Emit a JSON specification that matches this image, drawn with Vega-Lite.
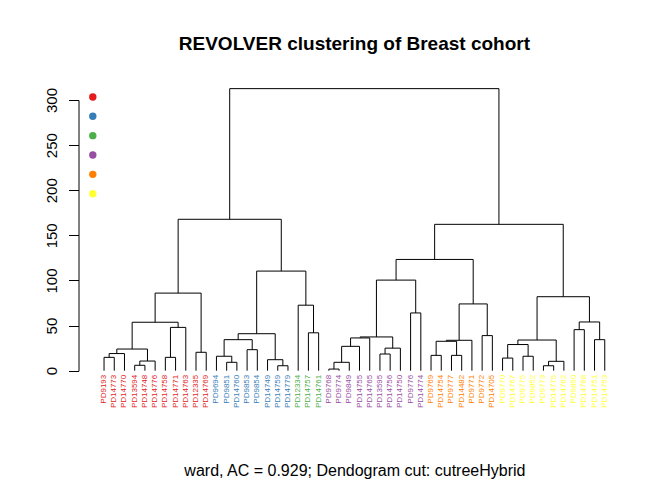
{
  "$schema": "https://vega.github.io/schema/vega-lite/v6.json",
  "width": 551.8,
  "height": 270.7,
  "autosize": {"type": "none"},
  "padding": {"left": 78.5, "top": 100, "right": 41.7, "bottom": 109.3},
  "background": "white",
  "title": {
    "text": "REVOLVER clustering of Breast cohort",
    "font": "Liberation Sans", "fontSize": 19, "fontWeight": "bold", "color": "#000",
    "anchor": "middle", "baseline": "alphabetic", "offset": 18
  },
  "config": {
    "view": {"stroke": null},
    "axisX": {"domain": false, "ticks": false, "labels": false, "grid": false,
      "titleFont": "Liberation Sans", "titleFontSize": 16, "titleFontWeight": "normal", "titleColor": "#000",
      "titleBaseline": "alphabetic", "titleY": 104.3},
    "axisY": {"values": [0, 50, 100, 150, 200, 250, 300], "grid": false,
      "domainColor": "#000", "tickColor": "#000", "tickSize": 10, "domainWidth": 1, "tickWidth": 1,
      "labelAngle": 270, "labelAlign": "center", "labelBaseline": "alphabetic", "labelPadding": 12,
      "labelFont": "Liberation Sans", "labelFontSize": 15, "labelColor": "#000",
      "labelFlush": false, "labelOverlap": false}
  },
  "datasets": {
    "merges": [
      {"node": "A", "xl": 1, "hl": 0, "xr": 2, "hr": 0, "h": 14.8},
      {"node": "B", "xl": 1.5, "hl": 14.8, "xr": 3, "hr": 0, "h": 19},
      {"node": "C", "xl": 4, "hl": 0, "xr": 5, "hr": 0, "h": 6},
      {"node": "D", "xl": 4.5, "hl": 6, "xr": 6, "hr": 0, "h": 10.7},
      {"node": "E", "xl": 2.25, "hl": 19, "xr": 5.25, "hr": 10.7, "h": 24},
      {"node": "F", "xl": 7, "hl": 0, "xr": 8, "hr": 0, "h": 14.8},
      {"node": "G", "xl": 7.5, "hl": 14.8, "xr": 9, "hr": 0, "h": 48},
      {"node": "H", "xl": 3.75, "hl": 24, "xr": 8.25, "hr": 48, "h": 53.7},
      {"node": "I", "xl": 10, "hl": 0, "xr": 11, "hr": 0, "h": 20.4},
      {"node": "J", "xl": 6, "hl": 53.7, "xr": 10.5, "hr": 20.4, "h": 86},
      {"node": "K", "xl": 13, "hl": 0, "xr": 14, "hr": 0, "h": 9.3},
      {"node": "L", "xl": 12, "hl": 0, "xr": 13.5, "hr": 9.3, "h": 16},
      {"node": "M", "xl": 15, "hl": 0, "xr": 16, "hr": 0, "h": 23.3},
      {"node": "N", "xl": 12.75, "hl": 16, "xr": 15.5, "hr": 23.3, "h": 34.4},
      {"node": "O", "xl": 18, "hl": 0, "xr": 19, "hr": 0, "h": 5.5},
      {"node": "P", "xl": 17, "hl": 0, "xr": 18.5, "hr": 5.5, "h": 12.2},
      {"node": "Q", "xl": 14.125, "hl": 34.4, "xr": 17.75, "hr": 12.2, "h": 41},
      {"node": "R", "xl": 21, "hl": 0, "xr": 22, "hr": 0, "h": 42},
      {"node": "S", "xl": 20, "hl": 0, "xr": 21.5, "hr": 42, "h": 72.6},
      {"node": "T", "xl": 15.9375, "hl": 41, "xr": 20.75, "hr": 72.6, "h": 110.4},
      {"node": "U", "xl": 8.25, "hl": 86, "xr": 18.34375, "hr": 110.4, "h": 167.8},
      {"node": "V", "xl": 23, "hl": 0, "xr": 24, "hr": 0, "h": 1.8},
      {"node": "W", "xl": 23.5, "hl": 1.8, "xr": 25, "hr": 0, "h": 9.3},
      {"node": "X", "xl": 24.25, "hl": 9.3, "xr": 26, "hr": 0, "h": 27},
      {"node": "Y", "xl": 25.125, "hl": 27, "xr": 27, "hr": 0, "h": 36.3},
      {"node": "Z", "xl": 28, "hl": 0, "xr": 29, "hr": 0, "h": 18.5},
      {"node": "AA", "xl": 28.5, "hl": 18.5, "xr": 30, "hr": 0, "h": 25},
      {"node": "AB", "xl": 26.0625, "hl": 36.3, "xr": 29.25, "hr": 25, "h": 37.4},
      {"node": "AC", "xl": 31, "hl": 0, "xr": 32, "hr": 0, "h": 64},
      {"node": "AD", "xl": 27.65625, "hl": 37.4, "xr": 31.5, "hr": 64, "h": 100.4},
      {"node": "AE", "xl": 33, "hl": 0, "xr": 34, "hr": 0, "h": 17},
      {"node": "AF", "xl": 35, "hl": 0, "xr": 36, "hr": 0, "h": 17},
      {"node": "AG", "xl": 33.5, "hl": 17, "xr": 35.5, "hr": 17, "h": 32.6},
      {"node": "AH", "xl": 34.5, "hl": 32.6, "xr": 37, "hr": 0, "h": 33.7},
      {"node": "AI", "xl": 38, "hl": 0, "xr": 39, "hr": 0, "h": 38.9},
      {"node": "AJ", "xl": 35.75, "hl": 33.7, "xr": 38.5, "hr": 38.9, "h": 74},
      {"node": "AK", "xl": 29.578125, "hl": 100.4, "xr": 37.125, "hr": 74, "h": 123.3},
      {"node": "AL", "xl": 40, "hl": 0, "xr": 41, "hr": 0, "h": 14},
      {"node": "AM", "xl": 42, "hl": 0, "xr": 43, "hr": 0, "h": 16},
      {"node": "AN", "xl": 40.5, "hl": 14, "xr": 42.5, "hr": 16, "h": 29},
      {"node": "AO", "xl": 44, "hl": 0, "xr": 45, "hr": 0, "h": 5.5},
      {"node": "AP", "xl": 44.5, "hl": 5.5, "xr": 46, "hr": 0, "h": 10.4},
      {"node": "AQ", "xl": 41.5, "hl": 29, "xr": 45.25, "hr": 10.4, "h": 34},
      {"node": "AR", "xl": 47, "hl": 0, "xr": 48, "hr": 0, "h": 45.5},
      {"node": "AS", "xl": 49, "hl": 0, "xr": 50, "hr": 0, "h": 34.4},
      {"node": "AT", "xl": 47.5, "hl": 45.5, "xr": 49.5, "hr": 34.4, "h": 54},
      {"node": "AU", "xl": 43.375, "hl": 34, "xr": 48.5, "hr": 54, "h": 82},
      {"node": "AV", "xl": 33.3515625, "hl": 123.3, "xr": 45.9375, "hr": 82, "h": 162.2},
      {"node": "root", "xl": 13.296875, "hl": 167.8, "xr": 39.64453125, "hr": 162.2, "h": 312.6}
    ],
    "leaves": [
      {"pos": 1, "sample": "PD9193", "cluster": "C1"},
      {"pos": 2, "sample": "PD14773", "cluster": "C1"},
      {"pos": 3, "sample": "PD14770", "cluster": "C1"},
      {"pos": 4, "sample": "PD13594", "cluster": "C1"},
      {"pos": 5, "sample": "PD14748", "cluster": "C1"},
      {"pos": 6, "sample": "PD14776", "cluster": "C1"},
      {"pos": 7, "sample": "PD14758", "cluster": "C1"},
      {"pos": 8, "sample": "PD14771", "cluster": "C1"},
      {"pos": 9, "sample": "PD14763", "cluster": "C1"},
      {"pos": 10, "sample": "PD12335", "cluster": "C1"},
      {"pos": 11, "sample": "PD14769", "cluster": "C1"},
      {"pos": 12, "sample": "PD9694", "cluster": "C2"},
      {"pos": 13, "sample": "PD9851", "cluster": "C2"},
      {"pos": 14, "sample": "PD14760", "cluster": "C2"},
      {"pos": 15, "sample": "PD9853", "cluster": "C2"},
      {"pos": 16, "sample": "PD9854", "cluster": "C2"},
      {"pos": 17, "sample": "PD14749", "cluster": "C2"},
      {"pos": 18, "sample": "PD14759", "cluster": "C2"},
      {"pos": 19, "sample": "PD14779", "cluster": "C2"},
      {"pos": 20, "sample": "PD12334", "cluster": "C3"},
      {"pos": 21, "sample": "PD14757", "cluster": "C3"},
      {"pos": 22, "sample": "PD14761", "cluster": "C3"},
      {"pos": 23, "sample": "PD9768", "cluster": "C4"},
      {"pos": 24, "sample": "PD9774", "cluster": "C4"},
      {"pos": 25, "sample": "PD9849", "cluster": "C4"},
      {"pos": 26, "sample": "PD14755", "cluster": "C4"},
      {"pos": 27, "sample": "PD14765", "cluster": "C4"},
      {"pos": 28, "sample": "PD13595", "cluster": "C4"},
      {"pos": 29, "sample": "PD14756", "cluster": "C4"},
      {"pos": 30, "sample": "PD14750", "cluster": "C4"},
      {"pos": 31, "sample": "PD9776", "cluster": "C4"},
      {"pos": 32, "sample": "PD14774", "cluster": "C4"},
      {"pos": 33, "sample": "PD9769", "cluster": "C5"},
      {"pos": 34, "sample": "PD14754", "cluster": "C5"},
      {"pos": 35, "sample": "PD9777", "cluster": "C5"},
      {"pos": 36, "sample": "PD14482", "cluster": "C5"},
      {"pos": 37, "sample": "PD9771", "cluster": "C5"},
      {"pos": 38, "sample": "PD9772", "cluster": "C5"},
      {"pos": 39, "sample": "PD14705", "cluster": "C5"},
      {"pos": 40, "sample": "PD9770", "cluster": "C6"},
      {"pos": 41, "sample": "PD14767", "cluster": "C6"},
      {"pos": 42, "sample": "PD9775", "cluster": "C6"},
      {"pos": 43, "sample": "PD9852", "cluster": "C6"},
      {"pos": 44, "sample": "PD9773", "cluster": "C6"},
      {"pos": 45, "sample": "PD14775", "cluster": "C6"},
      {"pos": 46, "sample": "PD14762", "cluster": "C6"},
      {"pos": 47, "sample": "PD9850", "cluster": "C6"},
      {"pos": 48, "sample": "PD14768", "cluster": "C6"},
      {"pos": 49, "sample": "PD14751", "cluster": "C6"},
      {"pos": 50, "sample": "PD14753", "cluster": "C6"}
    ],
    "dots": [
      {"cluster": "C1", "y": 303.4},
      {"cluster": "C2", "y": 281.9},
      {"cluster": "C3", "y": 260.5},
      {"cluster": "C4", "y": 239},
      {"cluster": "C5", "y": 217.6},
      {"cluster": "C6", "y": 196.1}
    ]
  },
  "layer": [
    {
      "data": {"name": "merges"},
      "mark": {"type": "rule", "color": "#000", "strokeWidth": 1},
      "encoding": {
        "x": {"field": "xl", "type": "quantitative", "scale": {"domain": [-1.5, 52.5], "nice": false, "zero": false}, "title": "ward, AC = 0.929; Dendogram cut: cutreeHybrid"},
        "x2": {"field": "xr"},
        "y": {"field": "h", "type": "quantitative", "scale": {"domain": [0, 300], "nice": false, "zero": false}, "title": null}
      }
    },
    {
      "data": {"name": "merges"},
      "mark": {"type": "rule", "color": "#000", "strokeWidth": 1},
      "encoding": {
        "x": {"field": "xl", "type": "quantitative", "title": "ward, AC = 0.929; Dendogram cut: cutreeHybrid"},
        "y": {"field": "hl", "type": "quantitative", "title": null},
        "y2": {"field": "h"}
      }
    },
    {
      "data": {"name": "merges"},
      "mark": {"type": "rule", "color": "#000", "strokeWidth": 1},
      "encoding": {
        "x": {"field": "xr", "type": "quantitative", "title": "ward, AC = 0.929; Dendogram cut: cutreeHybrid"},
        "y": {"field": "hr", "type": "quantitative", "title": null},
        "y2": {"field": "h"}
      }
    },
    {
      "data": {"name": "leaves"},
      "mark": {"type": "text", "angle": 270, "align": "right", "baseline": "middle", "font": "Liberation Sans", "fontSize": 8},
      "encoding": {
        "x": {"field": "pos", "type": "quantitative", "title": "ward, AC = 0.929; Dendogram cut: cutreeHybrid"},
        "y": {"datum": -4.5, "type": "quantitative"},
        "text": {"field": "sample"},
        "color": {"field": "cluster", "type": "nominal", "scale": {"domain": ["C1", "C2", "C3", "C4", "C5", "C6"], "range": ["#E41A1C", "#377EB8", "#4DAF4A", "#984EA3", "#FF7F00", "#FFFF33"]}, "legend": null}
      }
    },
    {
      "data": {"name": "dots"},
      "mark": {"type": "point", "shape": "circle", "filled": true, "opacity": 1, "size": 55},
      "encoding": {
        "x": {"datum": -0.1, "type": "quantitative"},
        "y": {"field": "y", "type": "quantitative", "title": null},
        "color": {"field": "cluster", "type": "nominal", "legend": null}
      }
    }
  ]
}
